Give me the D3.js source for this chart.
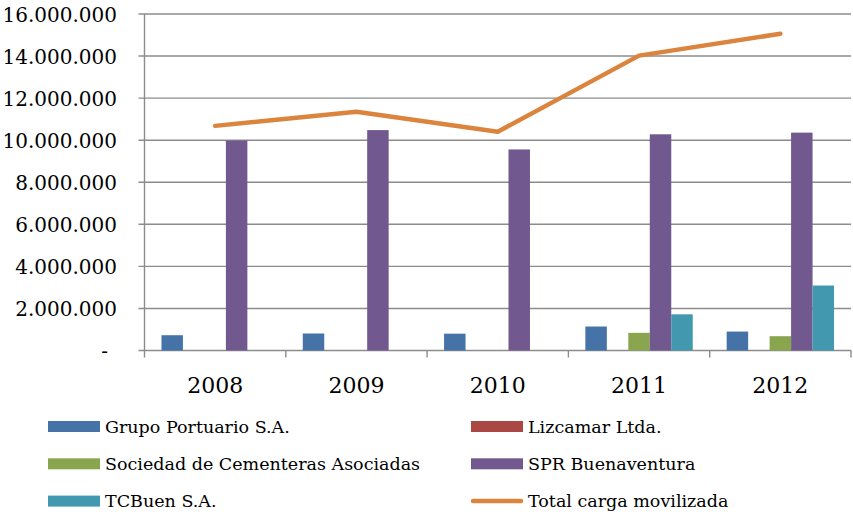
<!DOCTYPE html>
<html>
<head>
<meta charset="utf-8">
<script src="https://cdn.jsdelivr.net/npm/d3@7"></script>
<style>
html,body{margin:0;padding:0;background:#fff;}
svg{display:block;}
</style>
</head>
<body>
<svg id="chart" width="853" height="512"></svg>
<script>
const years = ["2008","2009","2010","2011","2012"];
const seriesNames = ["Grupo Portuario S.A.","Lizcamar Ltda.","Sociedad de Cementeras Asociadas","SPR Buenaventura","TCBuen S.A."];
const grupoPortuario = [727000, 808000, 800000, 1140000, 900000];
const lizcamar = [0, 0, 0, 0, 0];
const cementeras = [0, 0, 0, 840000, 680000];
const sprBuenaventura = [9980000, 10480000, 9560000, 10280000, 10360000];
const tcBuen = [0, 0, 0, 1720000, 3090000];
const totalCarga = [10680000, 11350000, 10400000, 14020000, 15060000];
const lineName = "Total carga movilizada";
const yTicks = [0, 2000000, 4000000, 6000000, 8000000, 10000000, 12000000, 14000000, 16000000];
const colors = ["#4572A7","#AA4643","#89A54E","#71588F","#4198AF"];
const lineColor = "#DB843D";

const barSeries = [grupoPortuario, lizcamar, cementeras, sprBuenaventura, tcBuen];

(function(){
const svg = d3.select("#chart");
const pLeft = 144.5, pRight = 851, pTop = 14, pBottom = 350.5;

const x0 = d3.scaleBand().domain(years).range([pLeft, pRight]).padding(0);
const x1 = d3.scaleBand().domain(d3.range(5)).range([0, x0.bandwidth()]).paddingInner(0).paddingOuter(0.79);
const y = d3.scaleLinear().domain([0, 16000000]).range([pBottom, pTop]);

const gridColor = "#8C8C8C";
const fmt = v => v === 0 ? "-" : d3.format(",")(v).replace(/,/g, ".");

// gridlines
svg.append("g").selectAll("line").data(yTicks).join("line")
  .attr("x1", pLeft - 6).attr("x2", pRight)
  .attr("y1", d => y(d)).attr("y2", d => y(d))
  .attr("stroke", gridColor).attr("stroke-width", 1.4);

// y axis line
svg.append("line").attr("x1", pLeft).attr("x2", pLeft).attr("y1", pTop).attr("y2", pBottom + 7)
  .attr("stroke", gridColor).attr("stroke-width", 1.4);

// x category ticks
const bounds = years.map(d => x0(d)).concat([pRight]);
svg.append("g").selectAll("line").data(bounds.slice(1)).join("line")
  .attr("x1", d => d).attr("x2", d => d).attr("y1", pBottom).attr("y2", pBottom + 7)
  .attr("stroke", gridColor).attr("stroke-width", 1.4);

// y labels
svg.append("g").selectAll("text").data(yTicks).join("text")
  .attr("x", d => d === 0 ? 108 : 117)
  .attr("y", d => y(d) + 7.5)
  .attr("text-anchor", "end")
  .attr("font-family", "DejaVu Serif")
  .attr("font-size", 20)
  .attr("fill", "#000")
  .text(fmt);

// x labels
svg.append("g").selectAll("text").data(years).join("text")
  .attr("x", d => x0(d) + x0.bandwidth() / 2)
  .attr("y", 393)
  .attr("text-anchor", "middle")
  .attr("font-family", "DejaVu Serif")
  .attr("font-size", 22)
  .attr("fill", "#000")
  .text(d => d);

// bars
const barData = [];
barSeries.forEach((arr, si) => arr.forEach((v, yi) => barData.push({si, year: years[yi], v})));
svg.append("g").selectAll("rect").data(barData.filter(d => d.v > 0)).join("rect")
  .attr("x", d => x0(d.year) + x1(d.si))
  .attr("width", x1.bandwidth())
  .attr("y", d => y(d.v))
  .attr("height", d => y(0) - y(d.v))
  .attr("fill", d => colors[d.si]);

// line
const line = d3.line().x((d, i) => x0(years[i]) + x0.bandwidth() / 2).y(d => y(d));
svg.append("path").datum(totalCarga)
  .attr("d", line)
  .attr("fill", "none")
  .attr("stroke", lineColor)
  .attr("stroke-width", 4.5)
  .attr("stroke-linecap", "round")
  .attr("stroke-linejoin", "round");

// legend
const legendItems = seriesNames.map((n, i) => ({name: n, color: colors[i], type: "bar"}))
  .concat([{name: lineName, color: lineColor, type: "line"}]);
const lg = svg.append("g");
legendItems.forEach((d, i) => {
  const col = i % 2, row = Math.floor(i / 2);
  const sx = col === 0 ? 48 : 471;
  const cy = 426.5 + row * 37.3;
  if (d.type === "bar") {
    lg.append("rect").attr("x", sx).attr("y", cy - 5.5).attr("width", 52).attr("height", 11).attr("fill", d.color);
  } else {
    lg.append("line").attr("x1", sx + 2).attr("x2", sx + 50).attr("y1", cy).attr("y2", cy)
      .attr("stroke", d.color).attr("stroke-width", 4.5).attr("stroke-linecap", "round");
  }
  lg.append("text").attr("x", sx + 57).attr("y", cy + 6)
    .attr("font-family", "DejaVu Serif").attr("font-size", 17.5).attr("fill", "#000")
    .text(d.name);
});
})();
</script>
</body>
</html>
